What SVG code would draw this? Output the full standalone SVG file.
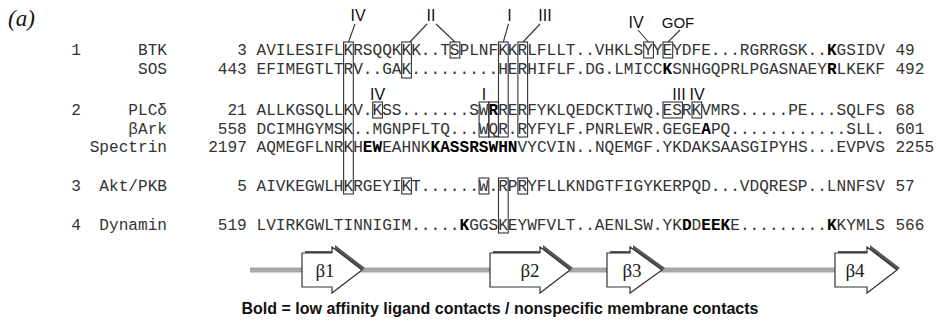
<svg xmlns="http://www.w3.org/2000/svg" width="944" height="323" viewBox="0 0 944 323">
<style>
.seq{font-family:"Liberation Mono","Courier New",monospace;font-size:16.13px;fill:#333}
.b{font-weight:bold;fill:#000}
.nm{font-family:"Liberation Mono","Courier New",monospace;font-size:16.13px;fill:#333}
.lab{font-family:"Liberation Sans",Arial,sans-serif;font-size:16px;fill:#111;text-anchor:middle}
.box{fill:none;stroke:#333;stroke-width:1.1}
.ln{stroke:#333;stroke-width:1.1;fill:none}
.arr{fill:#fff;stroke:#333;stroke-width:1.2}
.sh{fill:#555}
.bl{font-family:"Liberation Serif","Times New Roman",serif;font-size:19px;fill:#222;text-anchor:middle}
</style>
<rect width="944" height="323" fill="#fff"/>
<text x="8" y="26" font-family="Liberation Serif,'Times New Roman',serif" font-style="italic" font-size="23" fill="#111">(a)</text>

<g id="names">
<text class="nm" x="76" y="55" text-anchor="middle">1</text>
<text class="nm" x="76" y="115" text-anchor="middle">2</text>
<text class="nm" x="76" y="191" text-anchor="middle">3</text>
<text class="nm" x="76" y="230" text-anchor="middle">4</text>
<text class="nm" x="167" y="55" text-anchor="end">BTK</text>
<text class="nm" x="167" y="74" text-anchor="end">SOS</text>
<text class="nm" x="167" y="115" text-anchor="end">PLCδ</text>
<text class="nm" x="167" y="134" text-anchor="end">βArk</text>
<text class="nm" x="167" y="152" text-anchor="end">Spectrin</text>
<text class="nm" x="167" y="191" text-anchor="end">Akt/PKB</text>
<text class="nm" x="167" y="230" text-anchor="end">Dynamin</text>
</g>

<g id="row-btk">
<text class="nm" x="246.8" y="55" text-anchor="end">3</text>
<text class="seq" x="256.5" y="55">AVILESIFLKRSQQKKK..TSPLNFKKRLFLLT..VHKLSYYEYDFE...RGRRGSK..<tspan class="b">K</tspan>GSIDV</text>
<text class="nm" x="895.4" y="55">49</text>
</g>
<g id="row-sos">
<text class="nm" x="246.8" y="74" text-anchor="end">443</text>
<text class="seq" x="256.5" y="74">EFIMEGTLTRV..GAK.........HERHIFLF.DG.LMICC<tspan class="b">K</tspan>SNHGQPRLPGASNAEY<tspan class="b">R</tspan>LKEKF</text>
<text class="nm" x="895.4" y="74">492</text>
</g>
<g id="row-plc">
<text class="nm" x="246.8" y="115" text-anchor="end">21</text>
<text class="seq" x="256.5" y="115">ALLKGSQLLKV.KSS.......SW<tspan class="b">R</tspan>RERFYKLQEDCKTIWQ.ESRKVMRS.....PE...SQLFS</text>
<text class="nm" x="895.4" y="115">68</text>
</g>
<g id="row-bark">
<text class="nm" x="246.8" y="134" text-anchor="end">558</text>
<text class="seq" x="256.5" y="134">DCIMHGYMSK..MGNPFLTQ...WQR.RYFYLF.PNRLEWR.GEGE<tspan class="b">A</tspan>PQ............SLL.</text>
<text class="nm" x="895.4" y="134">601</text>
</g>
<g id="row-spectrin">
<text class="nm" x="246.8" y="152" text-anchor="end">2197</text>
<text class="seq" x="256.5" y="152">AQMEGFLNRKH<tspan class="b">EW</tspan>EAHNK<tspan class="b">KASSRSWHN</tspan>VYCVIN..NQEMGF.YKDAKSAASGIPYHS...EVPVS</text>
<text class="nm" x="895.4" y="152">2255</text>
</g>
<g id="row-akt">
<text class="nm" x="246.8" y="191" text-anchor="end">5</text>
<text class="seq" x="256.5" y="191">AIVKEGWLHKRGEYIKT......W.RPRYFLLKNDGTFIGYKERPQD...VDQRESP..LNNFSV</text>
<text class="nm" x="895.4" y="191">57</text>
</g>
<g id="row-dynamin">
<text class="nm" x="246.8" y="230" text-anchor="end">519</text>
<text class="seq" x="256.5" y="230">LVIRKGWLTINNIGIM.....<tspan class="b">K</tspan>GGSKEYWFVLT..AENLSW.YK<tspan class="b">D</tspan>D<tspan class="b">EEK</tspan>E.........<tspan class="b">K</tspan>KYMLS</text>
<text class="nm" x="895.4" y="230">566</text>
</g>

<g id="boxes">
<rect class="box" x="343.6" y="42" width="9.7" height="152"/>
<rect class="box" x="401.7" y="42" width="9.7" height="36"/>
<rect class="box" x="450.1" y="42" width="9.7" height="16"/>
<rect class="box" x="498.5" y="42" width="9.7" height="95"/>
<rect class="box" x="517.9" y="42" width="9.7" height="95"/>
<rect class="box" x="643.7" y="42" width="9.7" height="16"/>
<rect class="box" x="663.0" y="42" width="9.7" height="16"/>
<rect class="box" x="372.7" y="102" width="9.7" height="16"/>
<rect class="box" x="479.1" y="102" width="9.7" height="35"/>
<rect class="box" x="488.8" y="102" width="9.7" height="35"/>
<rect class="box" x="663.0" y="102" width="19.4" height="16"/>
<rect class="box" x="692.0" y="102" width="9.7" height="16"/>
<rect class="box" x="401.7" y="178" width="9.7" height="16"/>
<rect class="box" x="479.1" y="178" width="9.7" height="16"/>
<rect class="box" x="498.5" y="178" width="9.7" height="55"/>
<rect class="box" x="517.9" y="178" width="9.7" height="16"/>
</g>

<g id="labels">
<text class="lab" x="358" y="21">IV</text>
<text class="lab" x="431" y="21">II</text>
<text class="lab" x="509.5" y="21">I</text>
<text class="lab" x="545" y="21">III</text>
<text class="lab" x="636" y="28">IV</text>
<text class="lab" x="678" y="28" style="font-size:15px">GOF</text>
<text class="lab" x="377.5" y="100">IV</text>
<text class="lab" x="484" y="100">I</text>
<text class="lab" x="679" y="100">III</text>
<text class="lab" x="697" y="100">IV</text>
</g>

<g id="connectors">
<line class="ln" x1="355" y1="24" x2="348.5" y2="42"/>
<line class="ln" x1="427" y1="24" x2="410" y2="42"/>
<line class="ln" x1="436" y1="24" x2="455" y2="42"/>
<line class="ln" x1="508.5" y1="24" x2="503.3" y2="42"/>
<line class="ln" x1="540" y1="24" x2="523" y2="42"/>
<line class="ln" x1="638" y1="30" x2="648.5" y2="42"/>
<line class="ln" x1="680" y1="30" x2="668" y2="42"/>
</g>

<g id="strands">
<line x1="250" y1="270" x2="840" y2="270" stroke="#a8a8a8" stroke-width="5"/>
<g id="beta1">
<polygon class="sh" transform="translate(3,-2)" points="302,253 332,253 332,247 362,270 332,293 332,287 302,287"/>
<polygon class="arr" points="302,253 332,253 332,247 362,270 332,293 332,287 302,287"/>
<text class="bl" x="325" y="277">β1</text>
</g>
<g id="beta2">
<polygon class="sh" transform="translate(3,-2)" points="490,253 540,253 540,247 570,270 540,293 540,287 490,287"/>
<polygon class="arr" points="490,253 540,253 540,247 570,270 540,293 540,287 490,287"/>
<text class="bl" x="530" y="277">β2</text>
</g>
<g id="beta3">
<polygon class="sh" transform="translate(3,-2)" points="607,253 630,253 630,247 662,270 630,293 630,287 607,287"/>
<polygon class="arr" points="607,253 630,253 630,247 662,270 630,293 630,287 607,287"/>
<text class="bl" x="632" y="277">β3</text>
</g>
<g id="beta4">
<polygon class="sh" transform="translate(3,-2)" points="835,253 867,253 867,247 897,270 867,293 867,287 835,287"/>
<polygon class="arr" points="835,253 867,253 867,247 897,270 867,293 867,287 835,287"/>
<text class="bl" x="855" y="277">β4</text>
</g>
</g>

<text x="500" y="314" text-anchor="middle" font-family="Liberation Sans,Arial,sans-serif" font-weight="bold" font-size="16" fill="#111">Bold = low affinity ligand contacts / nonspecific membrane contacts</text>
</svg>
